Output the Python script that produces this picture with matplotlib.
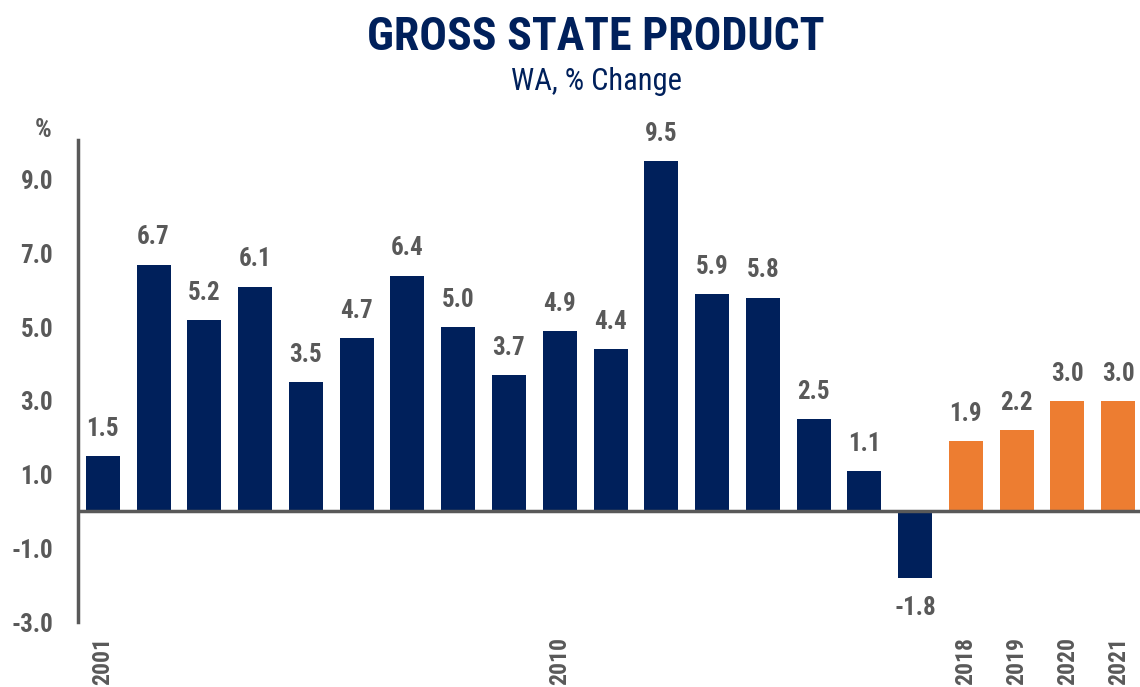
import matplotlib.pyplot as plt
import numpy as np

plt.rcParams['font.family'] = ['Roboto Condensed', 'Liberation Sans Narrow', 'DejaVu Sans']

years = list(range(2001, 2022))
gsp_change = [1.5, 6.7, 5.2, 6.1, 3.5, 4.7, 6.4, 5.0, 3.7, 4.9, 4.4, 9.5,
              5.9, 5.8, 2.5, 1.1, -1.8, 1.9, 2.2, 3.0, 3.0]
first_forecast = 2018
shown_years = [2001, 2010, 2018, 2019, 2020, 2021]
y_ticks = [-3.0, -1.0, 1.0, 3.0, 5.0, 7.0, 9.0]

navy = '#00205B'
orange = '#ED7D31'
grey = '#595959'

fig = plt.figure(figsize=(11.4, 6.87), dpi=100)
ax = fig.add_axes([0.0684, 0.0946, 0.9316, 0.7016])

x = np.arange(len(years))
colors = [orange if y >= first_forecast else navy for y in years]
ax.bar(x, gsp_change, width=0.67, color=colors, zorder=2)

# value labels above / below each bar
for xi, v in zip(x, gsp_change):
    if v >= 0:
        ax.annotate(f'{v:.1f}', (xi, v), xytext=(0, 11), textcoords='offset points',
                    ha='center', va='bottom', fontsize=18, fontweight='bold', color=grey)
    else:
        ax.annotate(f'{v:.1f}', (xi, v), xytext=(0, -13), textcoords='offset points',
                    ha='center', va='top', fontsize=18, fontweight='bold', color=grey)

ax.axhline(0, color=grey, linewidth=2.5, zorder=3)

ax.set_xlim(-0.49, len(years) - 0.57)
ax.set_ylim(-3.0, 10.08)
ax.set_yticks(y_ticks)
ax.set_yticklabels([f'{t:.1f}' for t in y_ticks])
ax.set_xticks([years.index(y) for y in shown_years])
ax.set_xticklabels([str(y) for y in shown_years], rotation=90, va='top')

ax.tick_params(axis='y', length=0, pad=18, labelsize=18, labelcolor=grey)
ax.tick_params(axis='x', length=0, pad=11, labelsize=17, labelcolor=grey)
for lbl in ax.get_xticklabels() + ax.get_yticklabels():
    lbl.set_fontweight('bold')

for side in ['top', 'right', 'bottom']:
    ax.spines[side].set_visible(False)
ax.spines['left'].set_color(grey)
ax.spines['left'].set_linewidth(2.5)

ax.text(-0.033, 1.02, '%', transform=ax.transAxes, ha='center', va='center',
        fontsize=19, fontweight='bold', color=grey)

fig.text(0.523, 0.927, 'GROSS STATE PRODUCT', ha='center', va='baseline',
         fontsize=33, fontweight='bold', color=navy)
fig.text(0.523, 0.869, 'WA, % Change', ha='center', va='baseline',
         fontsize=22, color=navy)

fig.savefig('out.png', dpi=100)
